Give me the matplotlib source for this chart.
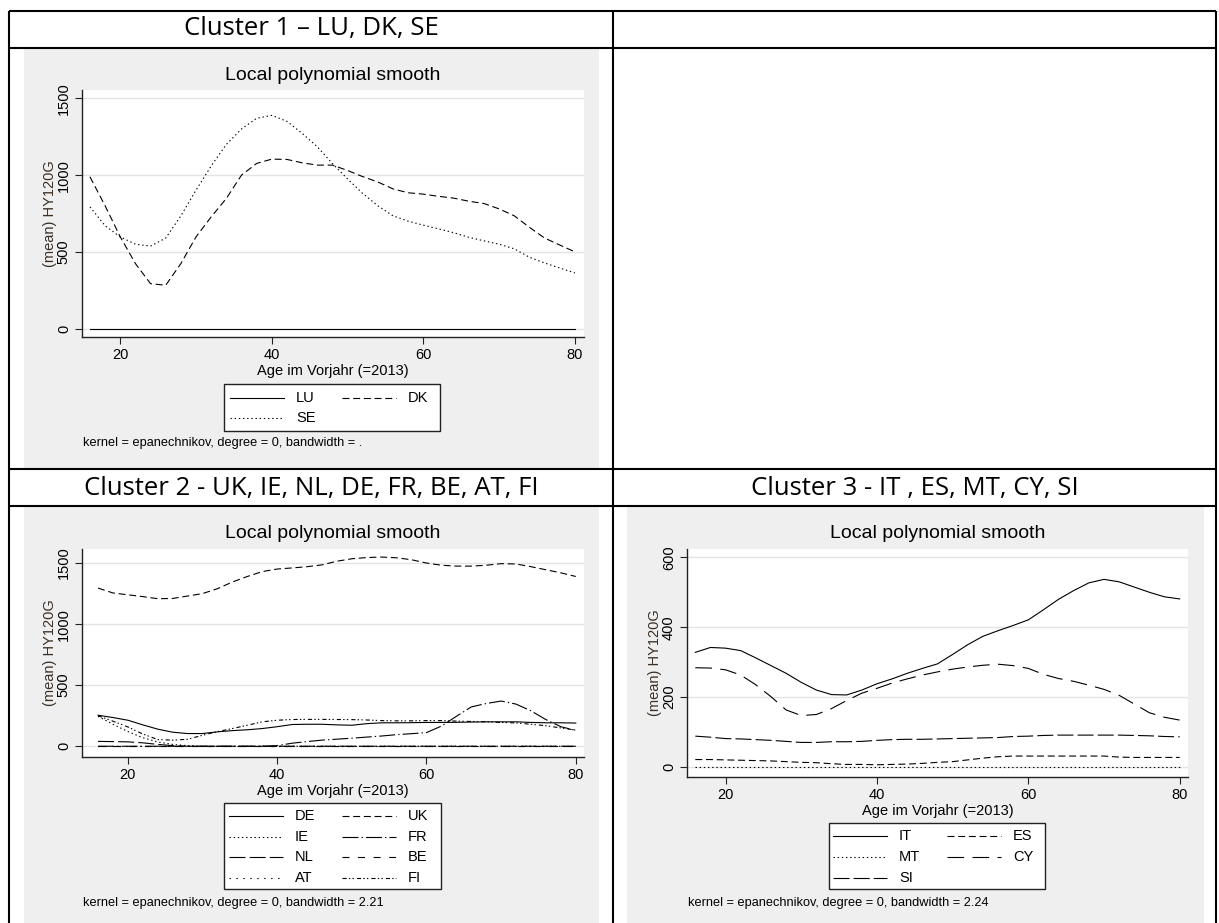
import matplotlib
matplotlib.use('Agg')
import matplotlib.pyplot as plt
from matplotlib.patches import Rectangle

W, H = 1219, 923

# age grid used for the smoothed curves (read every 2 years)
ages = list(range(16, 82, 2))
flat_ages = [16, 80]

# Cluster 1 - LU, DK, SE
lu = [0, 0]
dk = [989, 800, 598, 424, 293, 283, 424, 598, 728, 848, 1000, 1076, 1104, 1102, 1080, 1065, 1065,
      1030, 990, 955, 910, 885, 876, 862, 850, 830, 815, 780, 735, 660, 590, 545, 500]
se = [793, 670, 598, 550, 538, 590, 735, 902, 1060, 1200, 1300, 1370, 1389, 1350, 1272, 1185, 1075,
      975, 880, 800, 735, 700, 674, 650, 625, 595, 572, 550, 520, 465, 428, 395, 363]

# Cluster 2 - UK, IE, NL, DE, FR, BE, AT, FI
de = [254, 235, 213, 175, 140, 115, 104, 104, 118, 128, 135, 145, 160, 178, 180, 180, 175,
      172, 185, 192, 192, 193, 195, 195, 196, 198, 200, 200, 200, 195, 192, 192, 190]
uk = [1295, 1255, 1240, 1225, 1208, 1210, 1230, 1250, 1290, 1345, 1390, 1430, 1451, 1460, 1470, 1485, 1515,
      1535, 1545, 1549, 1543, 1527, 1500, 1482, 1475, 1475, 1482, 1495, 1492, 1470, 1445, 1420, 1390]
ie = [245, 180, 120, 70, 35, 15, 5, 0, 0, 0, 0, 0, 0, 0, 0, 0, 0,
      0, 0, 0, 0, 0, 0, 0, 0, 0, 0, 0, 0, 0, 0, 0, 0]
fr = [0, 0, 0, 0, 0, 0, 0, 0, 0, 0, 0, 0, 5, 25, 38, 50, 58,
      66, 75, 84, 95, 103, 112, 165, 245, 322, 350, 370, 345, 290, 218, 160, 130]
nl = [40, 38, 36, 28, 15, 5, 0, 0, 0, 0, 0, 0, 0, 0, 0, 0, 0,
      0, 0, 0, 0, 0, 0, 0, 0, 0, 0, 0, 0, 0, 0, 0, 0]
be = [0, 0]
at = [0, 0]
fi = [250, 205, 158, 100, 55, 50, 57, 90, 120, 145, 172, 200, 213, 219, 220, 220, 219,
      218, 215, 210, 208, 208, 210, 210, 206, 203, 200, 195, 191, 180, 168, 150, 132]

# Cluster 3 - IT, ES, MT, CY, SI
it = [328, 342, 340, 333, 312, 290, 268, 242, 220, 207, 206, 220, 238, 252, 268, 282, 295,
      322, 350, 374, 390, 405, 421, 450, 480, 505, 527, 537, 530, 515, 500, 487, 481]
es = [21, 21, 20, 19, 18, 17, 15, 13, 12, 9, 7, 7, 6, 7, 8, 10, 13,
      15, 20, 25, 29, 31, 31, 31, 31, 31, 31, 31, 28, 27, 27, 27, 27]
mt = [0, 0]
cy = [284, 283, 278, 263, 235, 201, 163, 147, 150, 167, 190, 211, 225, 240, 252, 263, 272,
      280, 286, 291, 294, 290, 282, 265, 253, 245, 234, 222, 205, 180, 155, 142, 134]
si = [88, 85, 81, 80, 78, 76, 73, 70, 70, 72, 72, 73, 76, 78, 79, 79, 80,
      81, 82, 83, 84, 87, 88, 90, 91, 91, 91, 91, 91, 90, 89, 87, 86]

# Stata-like line patterns (in points)
SOLID = '-'
DASH = (0, (5, 2.7))
DOT = (0, (1, 2))
LONGDASH_DOT = (0, (11.5, 2.2, 1, 2.2))
LONGDASH = (0, (11.5, 3))
SHORTDASH = (0, (5, 6.2))
SPARSEDOT = (0, (1, 4))
DASH_DOT_DOT = (0, (3, 1.6, 1, 1.6, 1, 2.2))
LONGDASH_WIDE = (0, (12, 6))

plt.rcParams['font.family'] = ['Liberation Sans', 'DejaVu Sans']
plt.rcParams['lines.scale_dashes'] = False

fig = plt.figure(figsize=(W / 100, H / 100), dpi=100)
fig.patch.set_facecolor('white')

# full-figure axes in pixel units for the table, panels and texts
bg = fig.add_axes([0, 0, 1, 1])
bg.set_xlim(0, W)
bg.set_ylim(H, 0)
bg.axis('off')
bg.set_zorder(0)

panel_grey = '#efefef'
for x0, y0, x1, y1 in [(24, 48, 599, 468), (24, 507, 599, 923), (627, 507, 1204, 923)]:
    bg.add_patch(Rectangle((x0, y0), x1 - x0, y1 - y0, facecolor=panel_grey, edgecolor='none'))

# table borders
for y in [11, 47.5, 469, 506]:
    bg.plot([9, 1216], [y, y], color='black', lw=1.5, solid_capstyle='butt')
for x in [9, 613, 1216]:
    bg.plot([x, x], [11, 923], color='black', lw=1.5, solid_capstyle='butt')

head_font = ['Open Sans', 'DejaVu Sans']
bg.text(311, 29, 'Cluster 1 – LU, DK, SE', ha='center', va='center', fontsize=18.5, family=head_font)
bg.text(311, 488, 'Cluster 2 - UK, IE, NL, DE, FR, BE, AT, FI', ha='center', va='center', fontsize=18.5, family=head_font)
bg.text(915, 488, 'Cluster 3 - IT , ES, MT, CY, SI', ha='center', va='center', fontsize=18.5, family=head_font)


def px_axes(left, top, right, bottom):
    ax = fig.add_axes([left / W, 1 - bottom / H, (right - left) / W, (bottom - top) / H])
    ax.set_zorder(1)
    return ax


def panel(box, xlim, ylim, yticks, series):
    ax = px_axes(*box)
    ax.set_facecolor('white')
    for x, y, ls in series:
        ax.plot(x, y, color='black', lw=0.8, linestyle=ls)
    ax.set_xlim(*xlim)
    ax.set_ylim(*ylim)
    ax.set_xticks([20, 40, 60, 80])
    ax.set_yticks(yticks)
    ax.yaxis.grid(True, color='#e4e4e4', lw=1.0)
    ax.set_axisbelow(True)
    for s in ['top', 'right']:
        ax.spines[s].set_visible(False)
    for s in ['left', 'bottom']:
        ax.spines[s].set_linewidth(1.0)
        ax.spines[s].set_color('#222222')
    ax.tick_params(direction='out', length=5, width=0.8, color='#222222', labelsize=10.5, pad=3)
    ax.tick_params(axis='y', labelrotation=90)
    for t in ax.get_yticklabels():
        t.set_va('center')
    left, top, right, bottom = box
    cx = (left + right) / 2
    bg.text(cx, top - 15, 'Local polynomial smooth', ha='center', va='center', fontsize=14)
    bg.text(cx, bottom + 34, 'Age im Vorjahr (=2013)', ha='center', va='center', fontsize=10.5)
    bg.text(left - 32, (top + bottom) / 2, '(mean) HY120G', ha='center', va='center',
            rotation=90, fontsize=10.5, color='#3b3026')
    return ax


def legend(box, rows, cols, entries):
    x0, y0, x1, y1 = box
    bg.add_patch(Rectangle((x0, y0), x1 - x0, y1 - y0, facecolor='white', edgecolor='#222222', lw=1.0))
    for i, (name, ls) in enumerate(entries):
        r, c = divmod(i, 2)
        sx, y = cols[c], rows[r]
        bg.plot([sx, sx + 54], [y, y], color='black', lw=0.8, linestyle=ls)
        bg.text(sx + 66, y, name, ha='left', va='center', fontsize=10.5)


# Cluster 1
panel((82, 90, 584, 337), (14.95, 81.2), (-54, 1554), [0, 500, 1000, 1500],
      [(flat_ages, lu, SOLID), (ages, dk, DASH), (ages, se, DOT)])
legend((224, 384, 440, 431), [398, 418], [230, 342],
       [('LU', SOLID), ('DK', DASH), ('SE', DOT)])
bg.text(83, 443, 'kernel = epanechnikov, degree = 0, bandwidth = .', ha='left', va='center', fontsize=9.2)

# Cluster 2
panel((82, 549, 584, 757), (13.85, 81.1), (-88, 1615), [0, 500, 1000, 1500],
      [(ages, de, SOLID), (ages, uk, DASH), (ages, ie, DOT), (ages, fr, LONGDASH_DOT),
       (ages, nl, LONGDASH), (flat_ages, be, SHORTDASH), (flat_ages, at, SPARSEDOT),
       (ages, fi, DASH_DOT_DOT)])
legend((224, 803, 441, 889), [816, 837, 857, 878], [229, 342],
       [('DE', SOLID), ('UK', DASH), ('IE', DOT), ('FR', LONGDASH_DOT),
        ('NL', LONGDASH), ('BE', SHORTDASH), ('AT', SPARSEDOT), ('FI', DASH_DOT_DOT)])
bg.text(83, 903, 'kernel = epanechnikov, degree = 0, bandwidth = 2.21', ha='left', va='center', fontsize=9.2)

# Cluster 3
panel((687, 549, 1188, 777), (14.9, 81.1), (-29, 624), [0, 200, 400, 600],
      [(ages, it, SOLID), (ages, es, DASH), (flat_ages, mt, DOT), (ages, cy, LONGDASH_WIDE),
       (ages, si, LONGDASH)])
legend((829, 823, 1045, 889), [836, 857, 878], [833, 947],
       [('IT', SOLID), ('ES', DASH), ('MT', DOT), ('CY', LONGDASH_WIDE), ('SI', LONGDASH)])
bg.text(688, 903, 'kernel = epanechnikov, degree = 0, bandwidth = 2.24', ha='left', va='center', fontsize=9.2)

fig.savefig('out.png', dpi=100)
